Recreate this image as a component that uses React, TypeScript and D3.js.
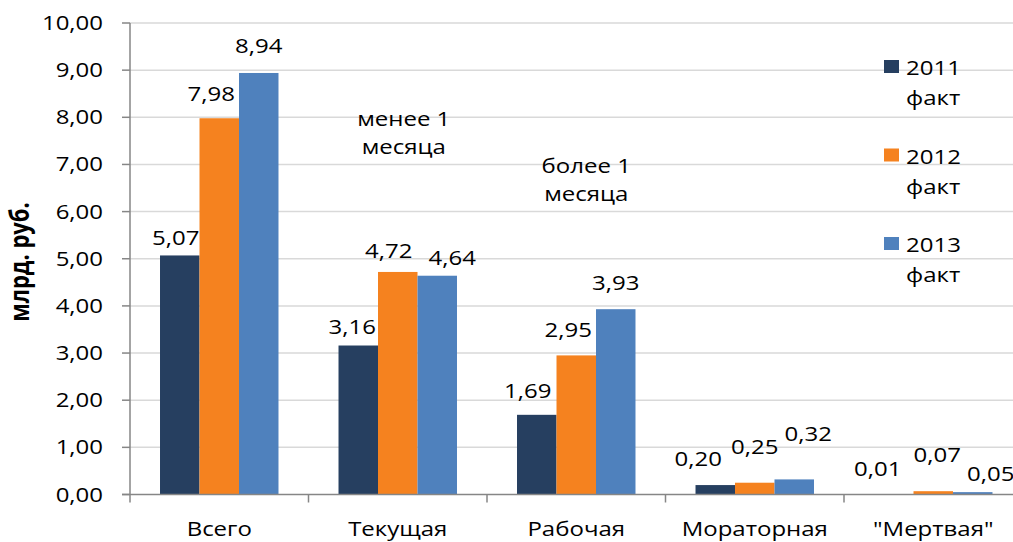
import React, { useEffect, useRef } from 'react';
import * as d3 from 'd3';

const categories = ['Всего', 'Текущая', 'Рабочая', 'Мораторная', '"Мертвая"'];
const series = ['2011 факт', '2012 факт', '2013 факт'];
const values2011 = [5.07, 3.16, 1.69, 0.2, 0.01];
const values2012 = [7.98, 4.72, 2.95, 0.25, 0.07];
const values2013 = [8.94, 4.64, 3.93, 0.32, 0.05];
const yTicks = [0, 1, 2, 3, 4, 5, 6, 7, 8, 9, 10];

// labels were dragged around by hand in the original, keep the nudges apart
const labelNudge = [
  [[-4, -10], [-8, -17], [0, -20]],
  [[-6, -12], [-9, -14], [15, -11]],
  [[-9, -17], [-8, -18], [0, -19]],
  [[-17, -19], [0, -29], [14, -38]],
  [[-16, -18], [4, -29], [18, -11]],
];

const colors = ['#263f60', '#f5821f', '#4f81bd'];
const SX = 1.2; // the picture is stretched sideways
const FS = 20;
const FONT = '"Open Sans", sans-serif';

const App = () => {
  const svgRef = useRef(null);

  useEffect(() => {
    const svg = d3.select(svgRef.current);
    svg.selectAll('*').remove();

    const left = 130;
    const step = 178.5;

    const x0 = d3.scaleBand().domain(categories).range([left, left + step * categories.length]);
    const x1 = d3.scaleBand().domain(series).range([0, x0.bandwidth()]).paddingOuter(0.76);
    const y = d3.scaleLinear().domain([0, 10]).range([494.5, 23]);
    const fmt = (v) => d3.format('.2f')(v).replace('.', ',');

    const stretched = (sel, x, yy) => sel.attr('transform', (d, i) => `translate(${x(d, i)},${yy(d, i)}) scale(${SX},1)`);

    // grid
    svg.append('g').selectAll('line').data(yTicks.filter(d => d > 0)).enter().append('line')
      .attr('x1', left).attr('x2', x0.range()[1])
      .attr('y1', d => y(d)).attr('y2', d => y(d))
      .attr('stroke', '#d9d9d9').attr('stroke-width', 1.5);

    // bars
    const tables = [values2011, values2012, values2013];
    const rows = categories.map((c, ci) => series.map((s, si) => ({ c, ci, s, si, v: tables[si][ci] })));
    const grp = svg.append('g').selectAll('g').data(rows).enter().append('g')
      .attr('transform', d => `translate(${x0(d[0].c)},0)`);
    grp.selectAll('rect').data(d => d).enter().append('rect')
      .attr('x', d => x1(d.s))
      .attr('width', x1.bandwidth())
      .attr('y', d => y(d.v))
      .attr('height', d => y(0) - y(d.v))
      .attr('fill', d => colors[d.si]);

    // axes
    svg.append('line').attr('x1', left).attr('x2', left).attr('y1', y(10)).attr('y2', y(0))
      .attr('stroke', '#868686').attr('stroke-width', 1.5);
    svg.append('line').attr('x1', left - 8).attr('x2', x0.range()[1]).attr('y1', y(0)).attr('y2', y(0))
      .attr('stroke', '#868686').attr('stroke-width', 1.5);
    svg.append('g').selectAll('line').data(yTicks).enter().append('line')
      .attr('x1', left - 8).attr('x2', left).attr('y1', d => y(d)).attr('y2', d => y(d))
      .attr('stroke', '#868686').attr('stroke-width', 1.5);
    svg.append('g').selectAll('line').data(categories).enter().append('line')
      .attr('x1', d => x0(d)).attr('x2', d => x0(d)).attr('y1', y(0)).attr('y2', y(0) + 8)
      .attr('stroke', '#868686').attr('stroke-width', 1.5);

    const txt = svg.append('g').attr('font-family', FONT).attr('font-size', FS).attr('fill', '#000');

    stretched(txt.append('g').selectAll('text').data(yTicks).enter().append('text'),
      () => 103, d => y(d))
      .attr('text-anchor', 'end').attr('dy', '0.35em').text(d => fmt(d));

    stretched(txt.append('g').selectAll('text').data(categories).enter().append('text'),
      d => x0(d) + x0.bandwidth() / 2, () => 536)
      .attr('text-anchor', 'middle').text(d => d);

    // value labels
    const flat = rows.flat();
    stretched(txt.append('g').selectAll('text').data(flat).enter().append('text'),
      d => x0(d.c) + x1(d.s) + x1.bandwidth() / 2 + labelNudge[d.ci][d.si][0],
      d => y(d.v) + labelNudge[d.ci][d.si][1])
      .attr('text-anchor', 'middle').text(d => fmt(d.v));

    // notes
    const notes = [
      { lines: ['менее 1', 'месяца'], c: 'Текущая', dx: 6, v: 7.82 },
      { lines: ['более 1', 'месяца'], c: 'Рабочая', dx: 10, v: 6.82 },
    ];
    notes.forEach(n => {
      n.lines.forEach((l, i) => {
        txt.append('text')
          .attr('transform', `translate(${x0(n.c) + x0.bandwidth() / 2 + n.dx},${y(n.v) + i * 28}) scale(${SX},1)`)
          .attr('text-anchor', 'middle').text(l);
      });
    });

    // y title
    txt.append('text')
      .attr('transform', `translate(29,262) scale(${SX},1) rotate(-90)`)
      .attr('text-anchor', 'middle').attr('font-weight', 'bold').attr('font-size', 22)
      .text('млрд. руб.');

    // legend
    const lg = svg.append('g').selectAll('g').data(series).enter().append('g')
      .attr('transform', (d, i) => `translate(884,${60 + i * 88.5})`);
    lg.append('rect').attr('width', 15).attr('height', 13).attr('fill', (d, i) => colors[i]);
    lg.each(function (d) {
      const parts = d.split(' ');
      parts.forEach((p, i) => {
        d3.select(this).append('text')
          .attr('transform', `translate(22,${15 + i * 30}) scale(${SX},1)`)
          .attr('font-family', FONT).attr('font-size', FS).attr('fill', '#000')
          .text(p);
      });
    });
  }, []);

  return (
    <svg ref={svgRef} width="1013" height="542" style={{ position: 'absolute', left: 0, top: 0, background: '#fff' }}>
    </svg>
  );
};

export default App;
